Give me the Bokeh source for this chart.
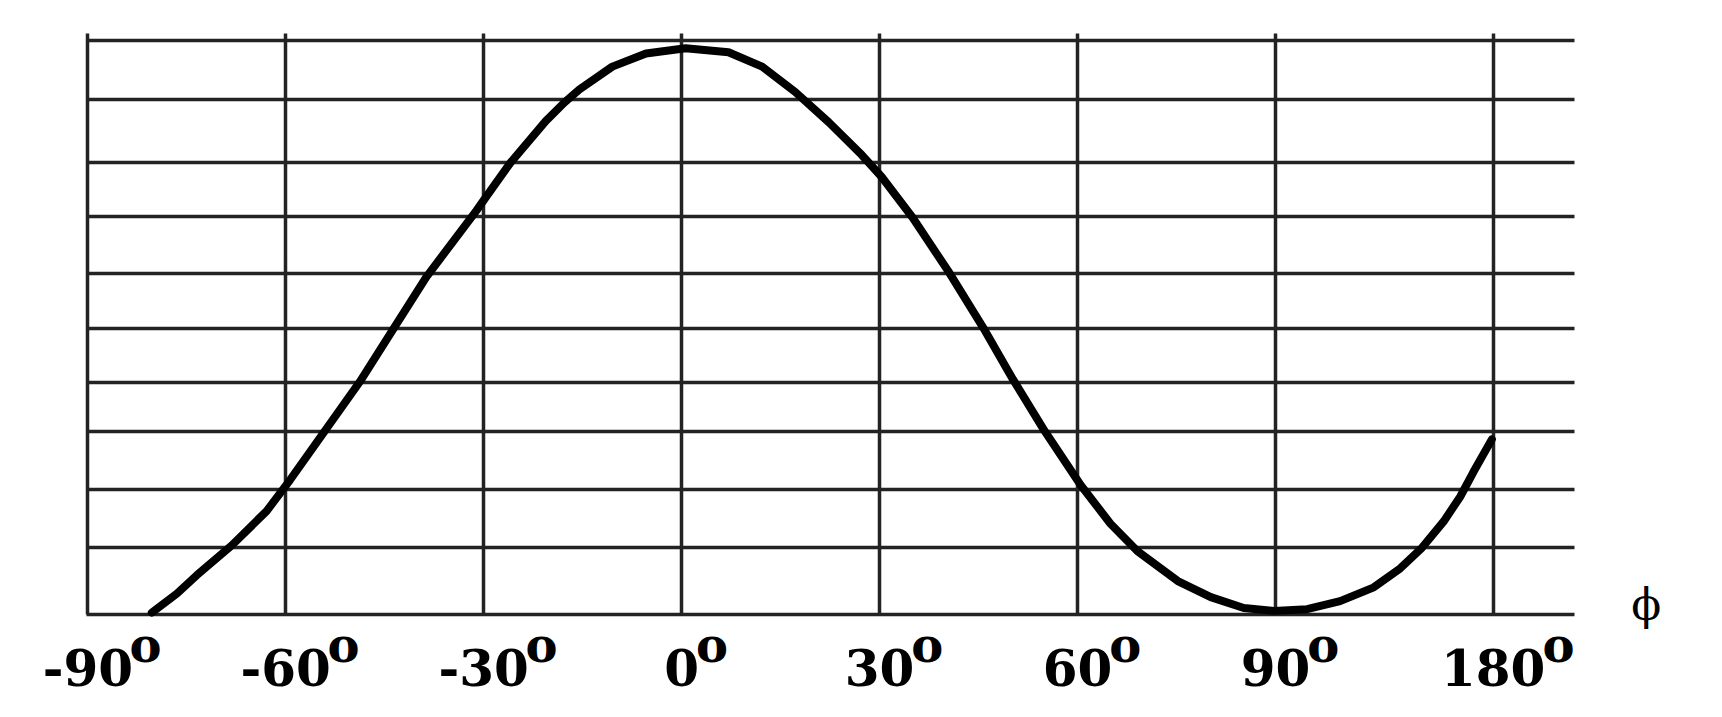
from bokeh.plotting import figure
from bokeh.models import FixedTicker, Grid, Range1d
from bokeh.core.properties import value
from bokeh.embed import file_html
from bokeh.resources import INLINE

# ---- data ----
tick_positions = [-90, -60, -30, 0, 30, 60, 90, 123]
tick_labels = ["-90", "-60", "-30", "0", "30", "60", "90", "180"]
grid_levels = [0, 1.157, 2.168, 3.186, 4.047, 4.983, 5.942, 6.94, 7.882, 8.978, 10]

phi_deg = [-80.3, -76.5, -73.5, -68.2, -62.9, -59.3, -55.1, -48.8, -44.5, -38.7,
           -31.1, -29.5, -25.9, -20.6, -17.8, -15.5, -10.5, -5.4, 0.6, 7.1,
           12.2, 17.2, 22.3, 27.3, 30.3, 35.0, 40.6, 45.7, 50.2, 55.0,
           60.5, 65.0, 69.1, 75.2, 80.2, 85.2, 89.8, 94.8, 99.8, 104.9,
           108.9, 112.2, 115.5, 118.0, 120.0, 122.8]
curve_val = [0.03, 0.36, 0.68, 1.20, 1.80, 2.35, 3.03, 4.05, 4.83, 5.88,
             7.04, 7.30, 7.88, 8.60, 8.92, 9.15, 9.55, 9.78, 9.87, 9.80,
             9.55, 9.11, 8.58, 8.01, 7.63, 6.92, 5.95, 5.00, 4.10, 3.20,
             2.25, 1.58, 1.10, 0.58, 0.30, 0.11, 0.06, 0.09, 0.23, 0.47,
             0.80, 1.16, 1.62, 2.05, 2.48, 3.05]

axis_symbol = "ϕ"
degree_mark = "o"

LINE = "#232323"
X_LEFT, X_RIGHT = -90.2, 135.33     # extent of the horizontal rules
Y_TOP = 10.127                      # top of the vertical rules

p = figure(width=1706, height=712, output_backend="svg", toolbar_location=None,
           x_range=Range1d(-103.23, 155.33), y_range=Range1d(-1.712, 10.703),
           x_axis_type=None, y_axis_type=None,
           min_border_left=0, min_border_right=0, min_border_top=0,
           min_border_bottom=0)
p.outline_line_color = None
p.background_fill_color = "white"
p.border_fill_color = "white"

vgrid = Grid(dimension=0, ticker=FixedTicker(ticks=tick_positions),
             cross_bounds=(0, Y_TOP), grid_line_color=LINE, grid_line_width=3.5)
hgrid = Grid(dimension=1, ticker=FixedTicker(ticks=grid_levels),
             cross_bounds=(X_LEFT, X_RIGHT), grid_line_color=LINE, grid_line_width=3.5)
p.add_layout(vgrid, "center")
p.add_layout(hgrid, "center")

p.line(phi_deg, curve_val, line_width=8, line_color="black",
       line_join="round", line_cap="round")

# tick labels (numbers) centred under each rule
n = len(tick_positions)
p.text(x=tick_positions, y=[-0.919] * n, text=tick_labels,
       text_font=value("DejaVu Serif"), text_font_style="bold",
       text_font_size="50px", text_color="black",
       text_align="center", text_baseline="alphabetic")

# superscript degree marks
char_w = {"-": 20.0}
offsets = [0.5 * sum(char_w.get(c, 34.8) for c in lab) - 3 for lab in tick_labels]
p.text(x=tick_positions, y=[-0.527] * n, text=[degree_mark] * n, x_offset=offsets,
       text_font=value("DejaVu Serif"), text_font_style="bold",
       text_font_size="48px", text_color="black",
       text_align="left", text_baseline="alphabetic")

# axis symbol
p.text(x=[146.2], y=[0.171], text=[axis_symbol],
       text_font=value("DejaVu Serif"), text_font_size="44px",
       text_color="black", text_align="center", text_baseline="alphabetic")

open("out.html", "w").write(file_html(p, INLINE))
